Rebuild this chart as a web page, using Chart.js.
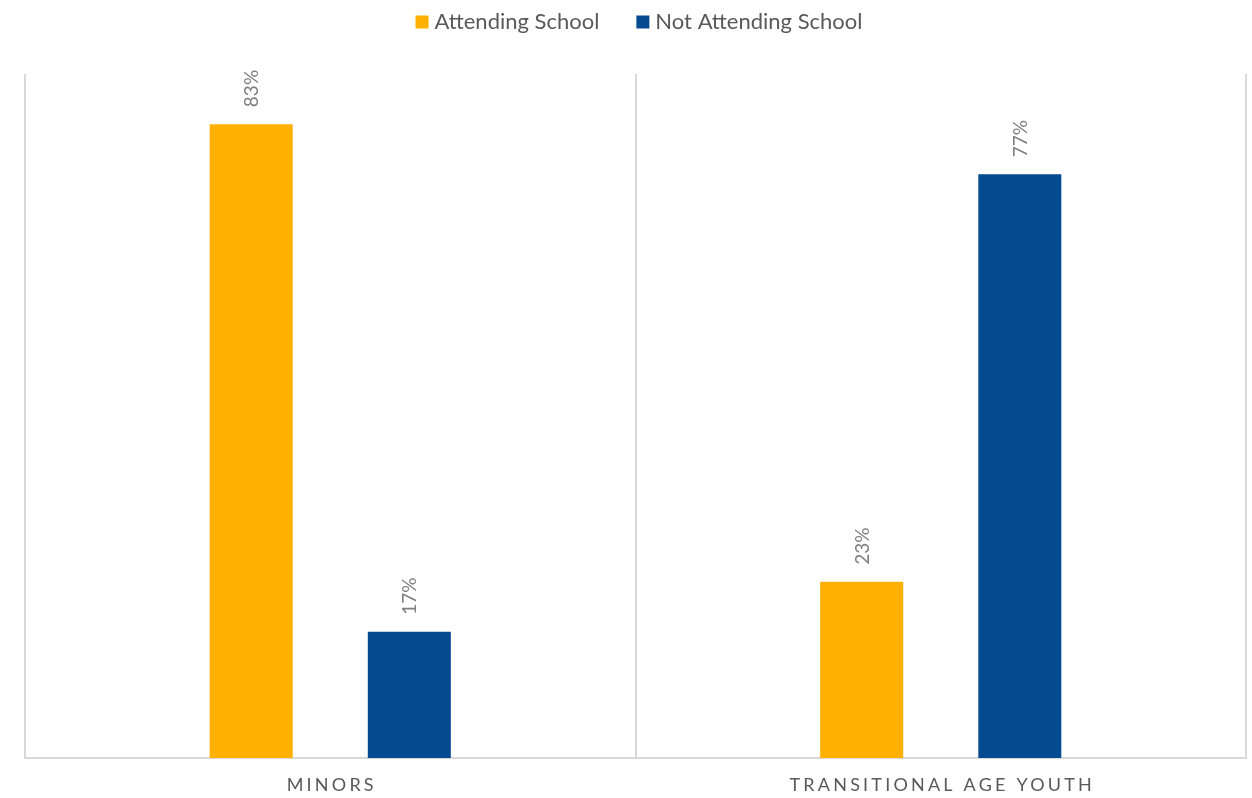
<!DOCTYPE html>
<html>
<head>
<meta charset="utf-8">
<script src="https://cdn.jsdelivr.net/npm/chart.js@4.4.1/dist/chart.umd.min.js"></script>
<style>
  html, body { margin: 0; padding: 0; background: #ffffff; }
  #wrap { width: 1252px; height: 798px; position: relative; }
</style>
</head>
<body>
<div id="wrap"><canvas id="c" width="1252" height="798"></canvas></div>
<script>
const categories = ['MINORS', 'TRANSITIONAL AGE YOUTH'];
const seriesNames = ['Attending School', 'Not Attending School'];
const attending = [83.4, 23.2];
const notAttending = [16.6, 76.8];
const yMax = 90;
const colors = ['#FFB000', '#044A8F'];

const FONT = 'Lato, "Open Sans", sans-serif';

const barLabelPlugin = {
  id: 'barLabels',
  afterDatasetsDraw(chart) {
    const ctx = chart.ctx;
    ctx.save();
    ctx.fillStyle = '#7f7f7f';
    ctx.font = '19px ' + FONT;
    ctx.textAlign = 'left';
    ctx.textBaseline = 'middle';
    chart.data.datasets.forEach((ds, i) => {
      const meta = chart.getDatasetMeta(i);
      meta.data.forEach((bar, j) => {
        const txt = Math.round(ds.data[j]) + '%';
        ctx.save();
        ctx.translate(bar.x + 1, bar.y - 17);
        ctx.rotate(-Math.PI / 2);
        ctx.fillText(txt, 0, 0);
        ctx.restore();
      });
    });
    ctx.restore();
  }
};

const xLabelPlugin = {
  id: 'xLabels',
  afterDraw(chart) {
    const ctx = chart.ctx;
    const xs = chart.scales.x;
    ctx.save();
    ctx.fillStyle = '#595959';
    ctx.font = '18px ' + FONT;
    ctx.letterSpacing = '3.2px';
    ctx.textAlign = 'center';
    ctx.textBaseline = 'middle';
    categories.forEach((lab, i) => {
      ctx.fillText(lab, xs.getPixelForValue(i) + 1.5, 785);
    });
    ctx.restore();
  }
};

const legendPlugin = {
  id: 'customLegend',
  afterDraw(chart) {
    const ctx = chart.ctx;
    ctx.save();
    ctx.font = '22px ' + FONT;
    ctx.textBaseline = 'middle';
    ctx.textAlign = 'left';
    const box = 13, gapBox = 6, gapItem = 37;
    const widths = seriesNames.map(n => ctx.measureText(n).width);
    let total = 0;
    widths.forEach((w, i) => { total += box + gapBox + w; if (i > 0) total += gapItem; });
    let x = 639 - total / 2;
    const cy = 22;
    chart.data.datasets.forEach((ds, i) => {
      ctx.fillStyle = ds.backgroundColor;
      ctx.fillRect(x, cy - box / 2, box, box);
      x += box + gapBox;
      ctx.fillStyle = '#595959';
      ctx.fillText(ds.label, x, cy);
      x += widths[i] + gapItem;
    });
    ctx.restore();
  }
};

new Chart(document.getElementById('c'), {
  type: 'bar',
  data: {
    labels: categories,
    datasets: [
      { label: seriesNames[0], data: attending, backgroundColor: colors[0],
        categoryPercentage: 0.518, barPercentage: 0.525 },
      { label: seriesNames[1], data: notAttending, backgroundColor: colors[1],
        categoryPercentage: 0.518, barPercentage: 0.525 }
    ]
  },
  options: {
    responsive: false,
    animation: false,
    layout: { padding: { left: 25, right: 6, bottom: 40, top: 74 } },
    plugins: {
      legend: { display: false },
      tooltip: { enabled: false }
    },
    scales: {
      x: {
        grid: { display: true, offset: true, color: '#d9d9d9', lineWidth: 2, drawTicks: false },
        border: { display: true, color: '#d9d9d9', width: 2 },
        ticks: { display: false }
      },
      y: {
        display: false,
        min: 0,
        max: yMax
      }
    }
  },
  plugins: [barLabelPlugin, xLabelPlugin, legendPlugin]
});
</script>
</body>
</html>
